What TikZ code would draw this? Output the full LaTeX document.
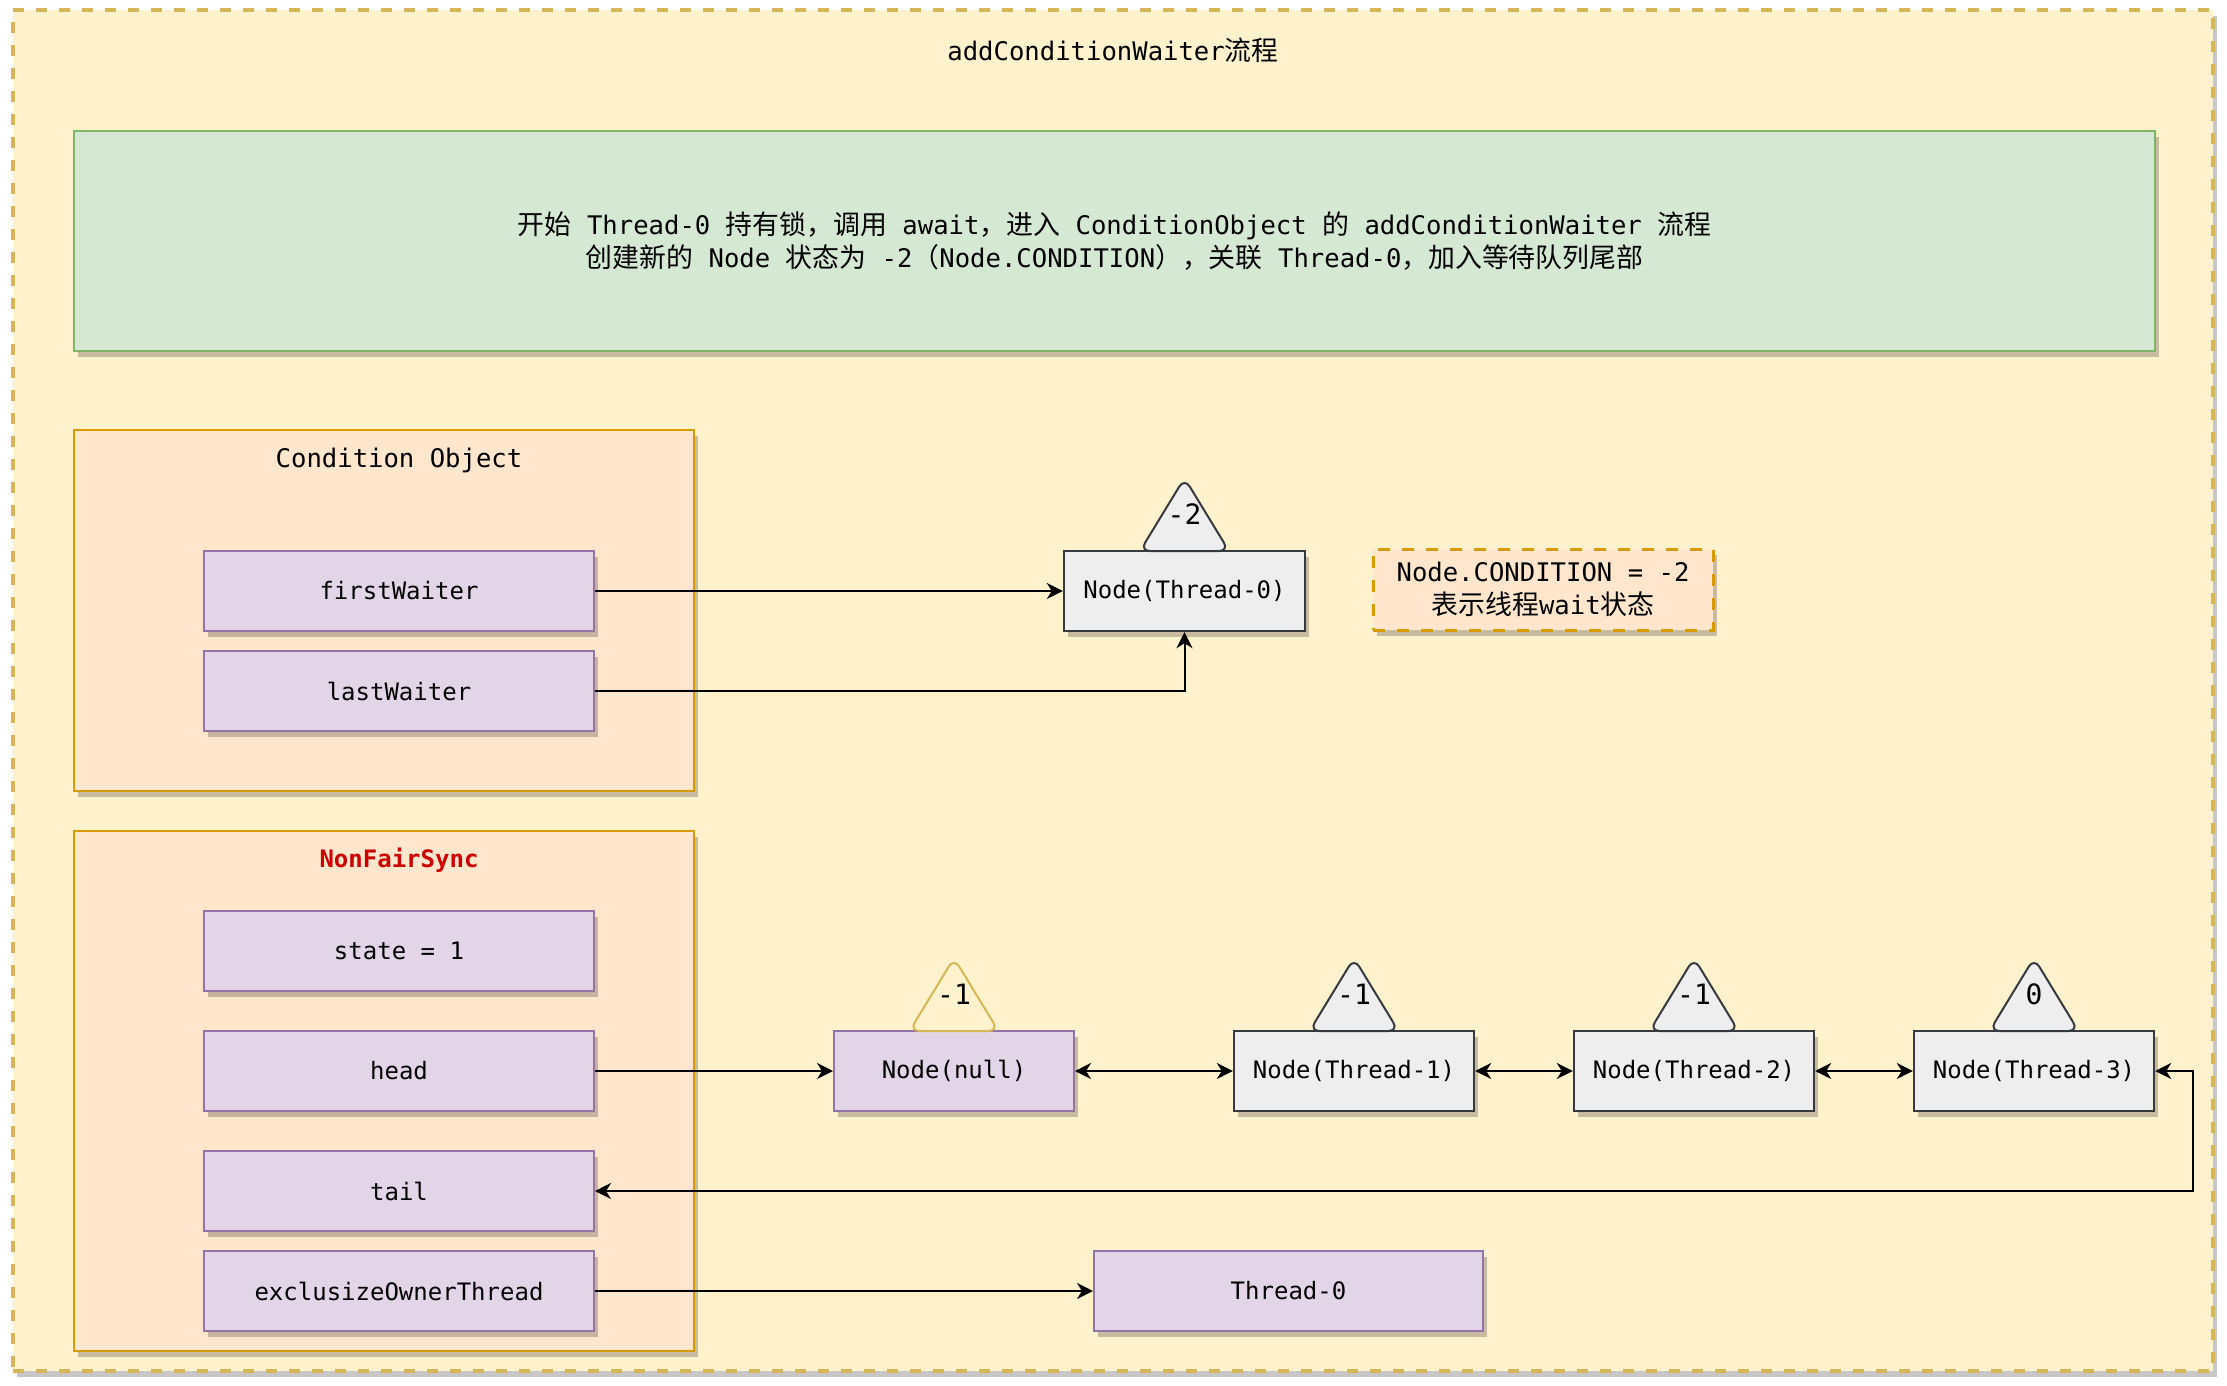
\documentclass[tikz,border=0pt]{standalone}
\usepackage{fontspec}
\setmainfont{DejaVu Sans Mono}
\newfontfamily\cjk[Scale=1.05]{Noto Sans CJK SC}
\usetikzlibrary{arrows.meta, shadows}

\definecolor{frameyellow}{HTML}{FFF2CC}
\definecolor{framegold}{HTML}{D6B656}
\definecolor{bannergreen}{HTML}{D5E8D4}
\definecolor{bannerline}{HTML}{82B366}
\definecolor{boxorange}{HTML}{FFE6CC}
\definecolor{boxorangeline}{HTML}{D79B00}
\definecolor{fieldpurple}{HTML}{E1D5E7}
\definecolor{fieldpurpleline}{HTML}{9673A6}
\definecolor{nodegray}{HTML}{EEEEEE}
\definecolor{nodegrayline}{HTML}{36393D}
\definecolor{syncred}{HTML}{CC0000}

\begin{document}
\begin{tikzpicture}[
    x=0.5pt, y=-0.5pt,
    font=\fontsize{12}{16}\selectfont,
    bigtext/.style={font=\fontsize{12.8}{16.5}\selectfont},
    statetext/.style={font=\fontsize{14}{17}\selectfont},
    softshadow/.style={drop shadow={shadow xshift=2pt, shadow yshift=-3pt, fill=black, opacity=0.22}},
    outerframe/.style={draw=framegold, fill=frameyellow, line width=1.6pt, dash pattern=on 5.5pt off 6pt, minimum width=1100pt, minimum height=680.5pt, softshadow},
    banner/.style={draw=bannerline, fill=bannergreen, line width=1pt, minimum width=1040.5pt, minimum height=110pt, align=center, bigtext, softshadow},
    container/.style={draw=boxorangeline, fill=boxorange, line width=1pt, minimum width=310pt, softshadow},
    field/.style={draw=fieldpurpleline, fill=fieldpurple, line width=1pt, minimum width=195pt, minimum height=40pt, softshadow},
    qnode/.style={draw=nodegrayline, fill=nodegray, line width=1.2pt, minimum width=120pt, minimum height=40pt, softshadow},
    note/.style={draw=boxorangeline, fill=boxorange, line width=1.5pt, dash pattern=on 6pt off 6pt, minimum width=170pt, minimum height=40.5pt, align=center, bigtext, softshadow},
    tri/.style={draw=nodegrayline, fill=nodegray, line width=1pt, rounded corners=5pt},
    arrow/.style={->, >={Stealth[length=8pt, width=8pt, inset=2.5pt]}, line width=1pt},
    biarrow/.style={arrow, <->},
]
\path[use as bounding box, fill=white] (0,0) rectangle (2227,1386);

% Rahmen
\node[outerframe] (frame) at (1113,690.5) {};
\node[bigtext] (title) at (1113,50) {addConditionWaiter{\cjk 流程}};
\node[banner] (intro) at (1114.5,241) {%
  {\cjk 开始} Thread-0 {\cjk 持有锁，调用} await{\cjk ，进入} ConditionObject {\cjk 的} addConditionWaiter {\cjk 流程}\\
  {\cjk 创建新的} Node {\cjk 状态为} -2{\cjk （}Node.CONDITION{\cjk ），关联} Thread-0{\cjk ，加入等待队列尾部}};

% Condition Object
\node[container, minimum height=180.5pt] (cond) at (384,610.5) {};
\node[bigtext] (condtitle) at (399,460) {Condition Object};
\node[field] (first) at (399,591) {firstWaiter};
\node[field] (last) at (399,691) {lastWaiter};

% NonFairSync
\node[container, minimum height=260pt] (sync) at (384,1091) {};
\node[text=syncred] (synctitle) at (399,860) {\bfseries NonFairSync};
\node[field] (state) at (399,951) {state = 1};
\node[field] (head) at (399,1071) {head};
\node[field] (tail) at (399,1191) {tail};
\node[field] (owner) at (399,1291) {exclusizeOwnerThread};

% Warteschlange der Condition
\node[qnode, minimum width=120.5pt] (nt0) at (1184.5,591) {Node(Thread-0)};
\draw[tri] (1140,551) -- (1184.5,478) -- (1229,551) -- cycle;
\node[statetext] (st0) at (1184.5,514) {-2};
\node[note] (cnote) at (1543,589.5) {Node.CONDITION = -2\\{\cjk 表示线程}wait{\cjk 状态}};

% Warteschlange der Sync
\node[field, minimum width=120pt] (nnull) at (954,1071) {Node(null)};
\node[qnode] (n1) at (1354,1071) {Node(Thread-1)};
\node[qnode] (n2) at (1694,1071) {Node(Thread-2)};
\node[qnode] (n3) at (2034,1071) {Node(Thread-3)};
\draw[tri, draw=framegold, fill=frameyellow] (909.5,1031) -- (954,958) -- (998.5,1031) -- cycle;
\draw[tri] (1309.5,1031) -- (1354,958) -- (1398.5,1031) -- cycle;
\draw[tri] (1649.5,1031) -- (1694,958) -- (1738.5,1031) -- cycle;
\draw[tri] (1989.5,1031) -- (2034,958) -- (2078.5,1031) -- cycle;
\node[statetext] (stnull) at (954,994) {-1};
\node[statetext] (st1) at (1354,994) {-1};
\node[statetext] (st2) at (1694,994) {-1};
\node[statetext] (st3) at (2034,994) {0};
\node[field, minimum width=194.5pt] (thr0) at (1288.5,1291) {Thread-0};

% Verbindungen
\coordinate (turn) at (2193,1071);
\draw[arrow] (first.east) -- (nt0.west);
\draw[arrow] (last.east) -| (nt0.south);
\draw[arrow] (head.east) -- (nnull.west);
\draw[biarrow] (nnull.east) -- (n1.west);
\draw[biarrow] (n1.east) -- (n2.west);
\draw[biarrow] (n2.east) -- (n3.west);
\draw[biarrow] (n3.east) -- (turn) |- (tail.east);
\draw[arrow] (owner.east) -- (thr0.west);
\end{tikzpicture}
\end{document}
